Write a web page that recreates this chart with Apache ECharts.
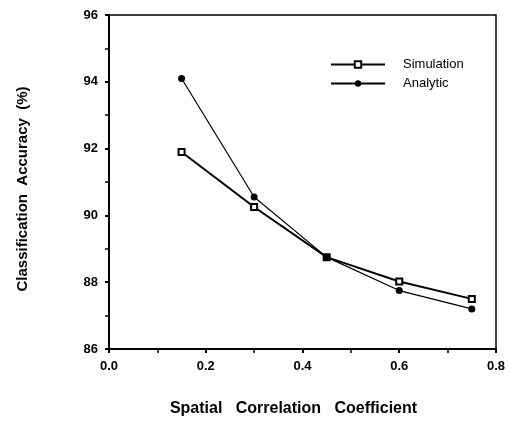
<!DOCTYPE html>
<html>
<head>
<meta charset="utf-8">
<script src="https://cdn.jsdelivr.net/npm/echarts@6/dist/echarts.min.js"></script>
<style>
  html, body { margin: 0; padding: 0; background: #fff; }
  #chart { width: 509px; height: 422px; }
</style>
</head>
<body>
<div id="chart"></div>
<script>
  // values
  var coeffs = [0.15, 0.3, 0.45, 0.6, 0.75];
  var simulation = [91.9, 90.25, 88.75, 88.02, 87.5];
  var analytic = [94.1, 90.55, 88.75, 87.75, 87.2];

  function pairs(ys) {
    return coeffs.map(function (x, i) { return [x, ys[i]]; });
  }

  var font = 'Liberation Sans, Arial, sans-serif';
  var chart = echarts.init(document.getElementById('chart'));
  chart.setOption({
    animation: false,
    grid: {
      left: 109, right: 13, top: 15, bottom: 71,
      show: true, borderColor: '#000', borderWidth: 1.5
    },
    legend: {
      orient: 'vertical',
      left: 325, top: 53,
      itemWidth: 54, itemHeight: 8, itemGap: 6,
      textStyle: { fontFamily: font, fontSize: 13, color: '#000', padding: [0, 0, 0, 13] },
      data: ['Simulation', 'Analytic']
    },
    xAxis: {
      type: 'value', min: 0, max: 0.8, interval: 0.2,
      name: 'Spatial   Correlation   Coefficient',
      nameLocation: 'middle', nameGap: 52,
      nameTextStyle: { fontFamily: font, fontSize: 16, fontWeight: 'bold', color: '#000', padding: [0, 18, 0, 0] },
      axisLine: { lineStyle: { color: '#000', width: 2 } },
      axisTick: { show: true, inside: false, length: 4, lineStyle: { color: '#000', width: 2 } },
      minorTick: { show: true, splitNumber: 2, length: 4, lineStyle: { color: '#000', width: 1.5 } },
      splitLine: { show: false },
      axisLabel: {
        fontFamily: font, fontSize: 13, fontWeight: 'bold', color: '#000', margin: 11,
        formatter: function (v) { return v.toFixed(1); }
      }
    },
    yAxis: {
      type: 'value', min: 86, max: 96, interval: 2,
      name: 'Classification  Accuracy  (%)',
      nameLocation: 'middle', nameGap: 79,
      nameTextStyle: { fontFamily: font, fontSize: 15, fontWeight: 'bold', color: '#000', padding: [0, 14, 0, 0] },
      axisLine: { lineStyle: { color: '#000', width: 2 } },
      axisTick: { show: true, inside: false, length: 4, lineStyle: { color: '#000', width: 2 } },
      minorTick: { show: true, splitNumber: 2, length: 4, lineStyle: { color: '#000', width: 1.5 } },
      splitLine: { show: false },
      axisLabel: { fontFamily: font, fontSize: 13, fontWeight: 'bold', color: '#000', margin: 11 }
    },
    series: [
      {
        name: 'Simulation',
        type: 'line',
        data: pairs(simulation),
        symbol: 'rect', symbolSize: 6,
        itemStyle: { color: '#fff', borderColor: '#000', borderWidth: 2 },
        lineStyle: { color: '#000', width: 2 }
      },
      {
        name: 'Analytic',
        type: 'line',
        data: pairs(analytic),
        symbol: 'circle', symbolSize: 7,
        itemStyle: { color: '#000', borderColor: '#000', borderWidth: 0 },
        lineStyle: { color: '#000', width: 1.2 }
      }
    ]
  });
</script>
</body>
</html>
